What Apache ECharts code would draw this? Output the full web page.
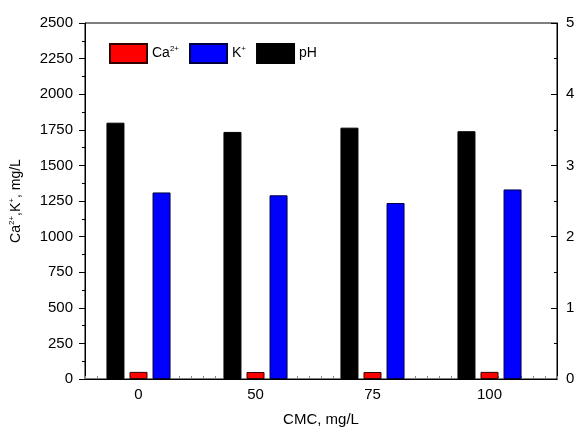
<!DOCTYPE html>
<html>
<head>
<meta charset="utf-8">
<script src="https://cdn.jsdelivr.net/npm/echarts@6/dist/echarts.min.js"></script>
<style>
  html, body { margin: 0; padding: 0; background: #fff; }
  #chart { width: 577px; height: 428px; }
</style>
</head>
<body>
<div id="chart"></div>
<script>
// CMC dosage categories
const categories = ['0', '50', '75', '100'];
// Ion concentrations, mg/L (left axis)
const caValues = [50, 49, 49, 50];
const kValues = [1310, 1290, 1236, 1331];
// pH (right axis)
const phValues = [3.60, 3.47, 3.53, 3.48];

const FONT = 'Liberation Sans, Arial, sans-serif';

const legendRich = {
  b: { fontSize: 14, fontFamily: FONT, color: '#000' },
  s: { fontSize: 8, fontFamily: FONT, color: '#000', padding: [0, 0, 9, 0] }
};
const legendText = {
  'Ca2+': '{b|Ca}{s|2+}',
  'K+': '{b|K}{s|+}',
  'pH': '{b|pH}'
};

const plainNumber = v => String(v);

const chart = echarts.init(document.getElementById('chart'));

chart.setOption({
  animation: false,
  backgroundColor: '#fff',
  grid: [
    // frame and value axes
    { left: 85, right: 20, top: 23, bottom: 49, show: true, borderColor: '#000', borderWidth: 1,
      backgroundColor: 'transparent', containLabel: false, outerBoundsMode: 'none' },
    // category placement of the bar groups
    { left: 80, right: 29, top: 23, bottom: 49, containLabel: false, outerBoundsMode: 'none' }
  ],
  legend: {
    data: ['Ca2+', 'K+', 'pH'],
    left: 104,
    top: 38,
    itemWidth: 37,
    itemHeight: 19,
    itemGap: 10,
    icon: 'rect',
    formatter: name => legendText[name],
    textStyle: { rich: legendRich }
  },
  xAxis: [
    {
      gridIndex: 0, type: 'value', min: 0, max: 40, interval: 1,
      axisLine: { show: true, lineStyle: { color: '#000', width: 1 } },
      axisTick: { show: true, inside: true, length: 3, lineStyle: { color: '#888' } },
      axisLabel: { show: false },
      splitLine: { show: false },
      name: 'CMC, mg/L', nameLocation: 'middle', nameGap: 33,
      nameTextStyle: { fontSize: 15, fontFamily: FONT, color: '#000' }
    },
    {
      gridIndex: 1, type: 'category', data: categories,
      axisLine: { show: false }, axisTick: { show: false },
      axisLabel: { fontSize: 15, fontFamily: FONT, color: '#000', margin: 8 }
    }
  ],
  yAxis: [
    {
      gridIndex: 0, type: 'value', position: 'left', min: 0, max: 2500, interval: 250,
      axisLine: { show: true, lineStyle: { color: '#000', width: 1 } },
      axisTick: { show: true, inside: false, length: 6, lineStyle: { color: '#000' } },
      minorTick: { show: true, splitNumber: 2, length: 3, lineStyle: { color: '#000' } },
      axisLabel: { fontSize: 15, fontFamily: FONT, color: '#000', margin: 12, formatter: plainNumber },
      splitLine: { show: false },
      name: '{b|Ca}{s|2+}{b|,K}{s|+}{b|, mg/L}',
      nameLocation: 'middle', nameGap: 60, nameRotate: 90,
      nameTextStyle: {
        rich: {
          b: { fontSize: 14, fontFamily: FONT, color: '#000' },
          s: { fontSize: 8, fontFamily: FONT, color: '#000', padding: [0, 0, 9, 0] }
        }
      }
    },
    {
      gridIndex: 0, type: 'value', position: 'right', min: 0, max: 5, interval: 1,
      axisLine: { show: true, lineStyle: { color: '#000', width: 1 } },
      axisTick: { show: true, inside: true, length: 6, lineStyle: { color: '#000' } },
      minorTick: { show: true, splitNumber: 2, length: 3, lineStyle: { color: '#000' } },
      axisLabel: { fontSize: 15, fontFamily: FONT, color: '#000', margin: 9, formatter: plainNumber },
      splitLine: { show: false }
    },
    { gridIndex: 1, type: 'value', min: 0, max: 5, show: false },
    { gridIndex: 1, type: 'value', min: 0, max: 2500, show: false }
  ],
  series: [
    {
      name: 'pH', type: 'bar', xAxisIndex: 1, yAxisIndex: 2,
      data: phValues, barWidth: 18, barGap: '28%',
      itemStyle: { color: '#000', borderColor: '#000', borderWidth: 1 }
    },
    {
      name: 'Ca2+', type: 'bar', xAxisIndex: 1, yAxisIndex: 3,
      data: caValues, barWidth: 18, barGap: '28%',
      itemStyle: { color: '#ff0000', borderColor: '#300', borderWidth: 1 }
    },
    {
      name: 'K+', type: 'bar', xAxisIndex: 1, yAxisIndex: 3,
      data: kValues, barWidth: 18, barGap: '28%',
      itemStyle: { color: '#0000ff', borderColor: '#000040', borderWidth: 1 }
    }
  ]
});
</script>
</body>
</html>
